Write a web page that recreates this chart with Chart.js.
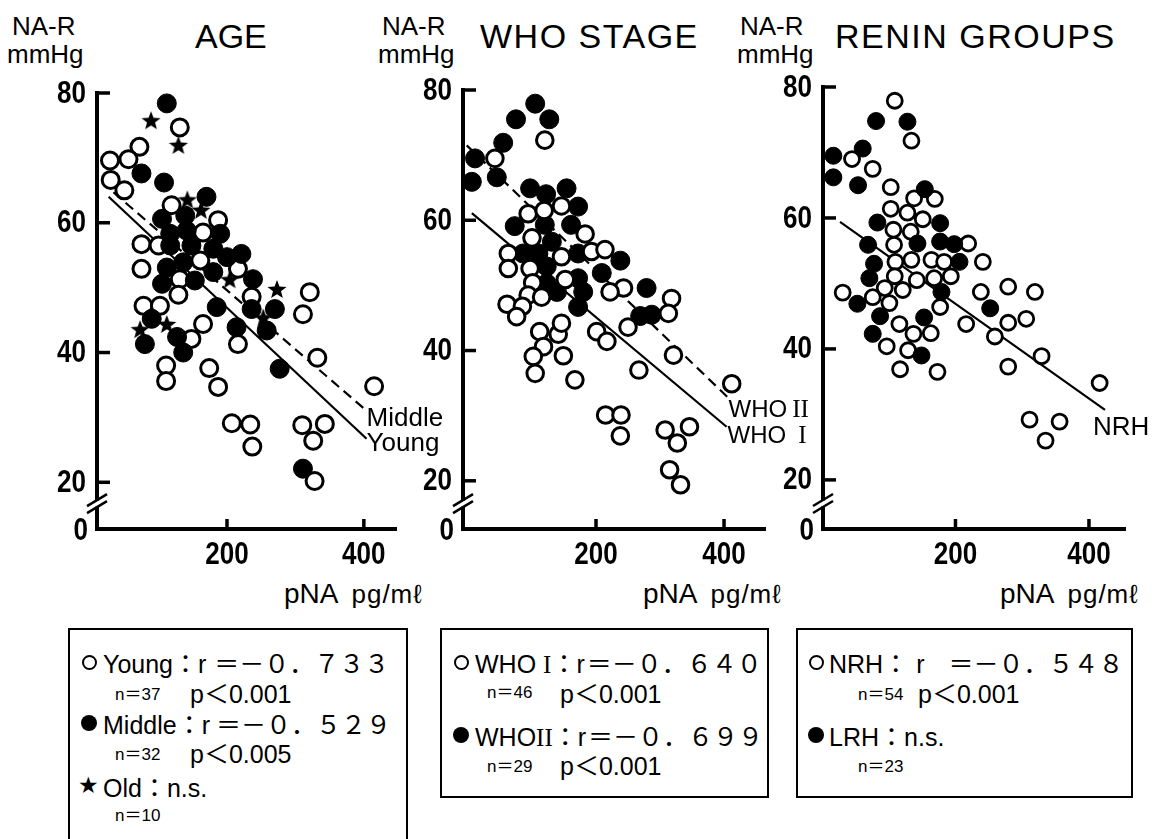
<!DOCTYPE html>
<html><head><meta charset="utf-8">
<script src="https://cdn.jsdelivr.net/npm/chart.js@4.4.0/dist/chart.umd.min.js"></script>
<style>
body{margin:0;width:1160px;height:839px;background:#fff;position:relative;overflow:hidden;font-family:'Liberation Sans',Arial,sans-serif;color:#000}
canvas{position:absolute;top:0}
.t{position:absolute;white-space:nowrap;line-height:1}
.box{position:absolute;border:2px solid #000;box-sizing:border-box}
.rn{font-family:'Liberation Serif','DejaVu Serif',serif}
.fw{font-family:'Noto Sans CJK JP',sans-serif}
.oc{position:absolute;width:15px;height:15px;border:2.2px solid #000;border-radius:50%;box-sizing:border-box;background:#fff}
.fc{position:absolute;width:16px;height:16px;border-radius:50%;background:#000}
.lg{font-size:25px}
.sm{font-size:17px}
</style></head><body>
<div class="t" style="left:12px;top:13px;font-size:26px">NA-R</div>
<div class="t" style="left:7px;top:41px;font-size:26px">mmHg</div>
<div class="t" style="left:195px;top:19px;font-size:34px">AGE</div>
<div class="t" style="left:382px;top:13px;font-size:26px">NA-R</div>
<div class="t" style="left:378px;top:41px;font-size:26px">mmHg</div>
<div class="t" style="left:480px;top:19px;font-size:34px;letter-spacing:1.5px">WHO STAGE</div>
<div class="t" style="left:740px;top:13px;font-size:26px">NA-R</div>
<div class="t" style="left:737px;top:41px;font-size:26px">mmHg</div>
<div class="t" style="left:835px;top:19px;font-size:34px;letter-spacing:1.5px">RENIN GROUPS</div>

<div class="t" style="left:284px;top:580px;font-size:28px">pNA<span style="font-size:26px;margin-left:13px;letter-spacing:1px">pg/mℓ</span></div>
<div class="t" style="left:643px;top:580px;font-size:28px">pNA<span style="font-size:26px;margin-left:13px;letter-spacing:1px">pg/mℓ</span></div>
<div class="t" style="left:1000px;top:580px;font-size:28px">pNA<span style="font-size:26px;margin-left:13px;letter-spacing:1px">pg/mℓ</span></div>

<!-- legend box 1 -->
<div class="box" style="left:68px;top:628px;width:340px;height:240px"></div>
<div class="oc" style="left:82px;top:655px"></div>
<div class="t lg" style="left:103px;top:650px">Young<span class="fw">：</span>r<span class="fw" style="margin-left:8px">＝－０．７３３</span></div>
<div class="t sm" style="left:115px;top:684px">n<span class="fw">＝</span>37</div>
<div class="t lg" style="left:190px;top:680px">p<span class="fw">＜</span>0.001</div>
<div class="fc" style="left:81px;top:715px"></div>
<div class="t lg" style="left:103px;top:711px">Middle<span class="fw">：</span>r<span class="fw" style="margin-left:6px">＝－０．５２９</span></div>
<div class="t sm" style="left:115px;top:744px">n<span class="fw">＝</span>32</div>
<div class="t lg" style="left:190px;top:740px">p<span class="fw">＜</span>0.005</div>
<div class="t" style="left:78px;top:774px;font-size:23px">★</div>
<div class="t lg" style="left:103px;top:774px">Old<span class="fw">：</span>n.s.</div>
<div class="t sm" style="left:115px;top:805px">n<span class="fw">＝</span>10</div>

<!-- legend box 2 -->
<div class="box" style="left:440px;top:628px;width:329px;height:170px"></div>
<div class="oc" style="left:454px;top:655px"></div>
<div class="t lg" style="left:475px;top:650px">WHO <span class="rn">I</span><span class="fw">：</span>r<span class="fw" style="margin-left:2px">＝－０．６４０</span></div>
<div class="t sm" style="left:487px;top:682px">n<span class="fw">＝</span>46</div>
<div class="t lg" style="left:560px;top:680px">p<span class="fw">＜</span>0.001</div>
<div class="fc" style="left:453px;top:727px"></div>
<div class="t lg" style="left:475px;top:723px">WHO<span class="rn">II</span><span class="fw">：</span>r<span class="fw" style="margin-left:2px">＝－０．６９９</span></div>
<div class="t sm" style="left:487px;top:756px">n<span class="fw">＝</span>29</div>
<div class="t lg" style="left:560px;top:752px">p<span class="fw">＜</span>0.001</div>

<!-- legend box 3 -->
<div class="box" style="left:796px;top:628px;width:337px;height:170px"></div>
<div class="oc" style="left:809px;top:655px"></div>
<div class="t lg" style="left:829px;top:650px">NRH<span class="fw">：</span><span style="margin-left:8px">r</span><span class="fw" style="margin-left:24px">＝－０．５４８</span></div>
<div class="t sm" style="left:858px;top:684px">n<span class="fw">＝</span>54</div>
<div class="t lg" style="left:918px;top:680px">p<span class="fw">＜</span>0.001</div>
<div class="fc" style="left:808px;top:727px"></div>
<div class="t lg" style="left:829px;top:723px">LRH<span class="fw">：</span>n.s.</div>
<div class="t sm" style="left:858px;top:756px">n<span class="fw">＝</span>23</div>

<canvas id="c1" width="455" height="620" style="left:0;width:455px;height:620px"></canvas>
<canvas id="c2" width="460" height="620" style="left:370px;width:460px;height:620px"></canvas>
<canvas id="c3" width="430" height="620" style="left:730px;width:430px;height:620px"></canvas>

<script>
// ---------- DATA ----------
const xTickValues = [200, 400];
const yTickValues = [20, 40, 60, 80];

// Panel 1: AGE
const ageYoungX = [131,72,29,56,30,50,119,187,165,75,100,75,161,216,131,129,236,321,311,78,102,148,165,216,111,111,174,187,207,234,237,332,415,310,343,326,328];
const ageYoungY = [74.7,71.7,69.6,69.8,66.6,65.0,62.7,60.4,58.5,56.7,56.5,52.9,54.2,52.9,51.3,48.9,48.6,49.3,45.9,47.2,47.2,42.1,44.4,41.3,38.0,35.6,37.6,34.7,29.1,28.9,25.5,39.2,34.8,28.8,29.0,26.4,20.2];
const ageMiddleX = [112,75,108,170,139,105,117,141,190,117,148,180,200,221,112,136,180,153,105,238,185,236,270,90,80,127,136,214,258,277,311];
const ageMiddleY = [78.4,67.6,66.2,64.0,61.1,60.6,58.3,58.8,58.3,56.5,56.5,56.0,54.7,55.2,53.1,53.9,52.4,51.1,50.6,51.3,47.0,46.7,46.7,45.2,41.3,42.4,40.0,43.9,43.4,37.5,22.1];
const ageOldX = [89,129,142,162,204,273,253,73,112];
const ageOldY = [75.8,72.0,63.6,62.0,51.3,49.8,45.4,43.6,44.4];
const ageYoungLineX = [27, 404];
const ageYoungLineY = [64.0, 26.7];
const ageMiddleLineX = [34, 401];
const ageMiddleLineY = [64.7, 31.3];

// Panel 2: WHO STAGE
const who1X = [120,42,146,94,119,183,100,63,146,193,214,63,97,152,101,243,222,318,94,115,61,85,76,313,250,112,141,146,118,102,149,201,217,321,105,167,267,412,215,239,238,308,346,327,315,332];
const who1Y = [72.3,69.5,62.2,61.0,61.5,57.9,57.3,54.9,54.4,55.2,55.5,52.6,52.6,50.9,50.4,49.6,49.0,48.0,48.5,48.2,47.1,46.8,45.2,45.7,43.6,42.9,42.5,44.2,40.6,39.1,39.2,42.9,41.4,39.3,36.5,35.5,37.0,34.9,30.1,30.1,26.9,27.8,28.3,25.8,21.7,19.4];
const who2X = [105,75,127,55,11,45,6,97,122,154,172,73,120,161,131,86,110,172,238,123,209,172,279,123,180,139,172,269,287];
const who2Y = [77.9,75.5,75.5,71.9,69.5,66.6,65.9,64.9,64.0,64.9,62.1,59.1,59.3,59.3,56.7,54.9,54.9,54.9,53.8,52.9,51.9,51.1,49.6,50.3,49.0,49.0,46.7,45.3,45.5];
const who1LineX = [6, 404];
const who1LineY = [61.1, 28.3];
const who2LineX = [-2, 407];
const who2LineY = [71.5, 32.7];

// Panel 3: RENIN GROUPS
const nrhX = [109,134,45,76,103,138,169,103,128,151,107,133,108,219,110,134,164,183,241,109,142,168,193,31,76,94,121,101,238,177,116,137,163,216,97,129,259,117,173,279,319,279,306,329,279,416,311,356,335];
const nrhY = [77.9,71.8,69.0,67.5,64.7,63.0,62.9,61.4,60.8,59.8,58.2,57.9,55.9,56.1,53.3,53.6,53.6,53.3,53.3,51.1,50.5,50.8,51.1,48.6,47.9,49.3,49.0,47.0,48.7,46.4,43.8,42.3,42.4,43.8,40.4,39.8,41.9,36.9,36.5,49.5,48.7,44.0,44.6,38.9,37.3,34.8,29.2,28.9,26.0];
const lrhX = [81,128,17,61,17,54,154,83,177,69,143,177,198,78,206,71,53,179,252,87,153,76,149];
const lrhY = [74.8,74.7,69.5,70.6,66.2,65.0,64.4,59.3,59.2,55.9,56.1,56.4,56.0,53.0,53.3,50.8,46.9,48.7,46.2,45.0,44.8,42.3,39.0];
const nrhLineX = [27, 424];
const nrhLineY = [59.4, 30.7];

// ---------- helpers ----------
const pts = (xs, ys) => xs.map((x, i) => ({x, y: ys[i]}));
function starImage(size){
  const c = document.createElement('canvas'); c.width = c.height = size;
  const g = c.getContext('2d'); g.fillStyle = '#000'; g.beginPath();
  const cx = size/2, cy = size/2 + size*0.05, R = size/2, r = R*0.42;
  for (let i = 0; i < 10; i++) { const a = -Math.PI/2 + i*Math.PI/5; const rr = i%2 ? r : R; g.lineTo(cx + rr*Math.cos(a), cy + rr*Math.sin(a)); }
  g.closePath(); g.fill(); return c;
}
const STAR = starImage(20);
const TICK_FONT = "bold 31px 'Liberation Sans',Arial,sans-serif";

function drawNarrow(ctx, text, x, y, align) {
  ctx.save();
  ctx.font = TICK_FONT; ctx.textBaseline = 'middle';
  const sx = 0.84;
  const w = ctx.measureText(text).width * sx;
  let left = align === 'right' ? x - w : (align === 'center' ? x - w / 2 : x);
  ctx.translate(left, y); ctx.scale(sx, 1);
  ctx.textAlign = 'left'; ctx.fillText(text, 0, 0);
  ctx.restore();
}

const deco = {
  id: 'deco',
  afterDatasetsDraw(chart, args, o) {
    const {ctx, chartArea: a, scales: {x, y}} = chart;
    ctx.save();
    ctx.fillStyle = '#000'; ctx.strokeStyle = '#000'; ctx.lineWidth = 3.5; ctx.lineCap = 'butt';
    yTickValues.forEach(v => {
      const py = y.getPixelForValue(v);
      ctx.beginPath(); ctx.moveTo(a.left, py); ctx.lineTo(a.left + 13, py); ctx.stroke();
      drawNarrow(ctx, String(v), a.left - 11, py + 1, 'right');
    });
    drawNarrow(ctx, '0', a.left - 9, y.getPixelForValue(y.min) + 2, 'right');
    xTickValues.forEach(v => {
      const px = x.getPixelForValue(v);
      ctx.beginPath(); ctx.moveTo(px, a.bottom); ctx.lineTo(px, a.bottom - 10); ctx.stroke();
      drawNarrow(ctx, String(v), px, a.bottom + 26, 'center');
    });
    // axis break
    const pb = y.getPixelForValue(o.breakAt);
    ctx.fillStyle = '#fff'; ctx.fillRect(a.left - 3, pb - 3, 6, 6);
    ctx.fillStyle = '#000'; ctx.lineWidth = 2.5;
    [-3.5, 3.5].forEach(d => { ctx.beginPath(); ctx.moveTo(a.left - 10, pb + d + 6); ctx.lineTo(a.left + 10, pb + d - 6); ctx.stroke(); });
    // regression line labels
    ctx.textBaseline = 'middle'; ctx.textAlign = 'left';
    (o.labels || []).forEach(L => {
      const el = chart.getDatasetMeta(L.ds).data[1];
      let px = el.x + L.dx; const py = el.y + L.dy;
      L.parts.forEach(p => { px += (p.gap || 0); ctx.font = p.f; ctx.fillText(p.t, px, py); px += ctx.measureText(p.t).width; });
    });
    ctx.restore();
  }
};

function panel(id, cfg) {
  const canvas = document.getElementById(id);
  const H = canvas.height, W = canvas.width;
  const off = cfg.offset;
  return new Chart(canvas, {
    type: 'scatter',
    data: {datasets: cfg.datasets},
    options: {
      responsive: false, animation: false, devicePixelRatio: 1,
      layout: {padding: {left: 0, top: cfg.top, right: W - (cfg.right - off), bottom: 0}},
      plugins: {legend: {display: false}, tooltip: {enabled: false}, deco: {breakAt: cfg.breakAt, labels: cfg.labels}},
      scales: {
        x: {type: 'linear', min: cfg.xmin, max: cfg.xmax,
            afterBuildTicks: s => { s.ticks = xTickValues.map(v => ({value: v})); },
            afterFit: s => { s.height = H - cfg.bottom; },
            grid: {display: false, drawTicks: false},
            border: {display: true, width: 4, color: '#000'},
            ticks: {display: false}},
        y: {type: 'linear', min: cfg.ymin, max: 80,
            afterBuildTicks: s => { s.ticks = yTickValues.map(v => ({value: v})); },
            afterFit: s => { s.width = cfg.axisX - off; },
            grid: {display: false, drawTicks: false},
            border: {display: true, width: 4, color: '#000'},
            ticks: {display: false}}
      }
    },
    plugins: [deco]
  });
}

const openDs = (data, r, bw, order) => ({data, pointRadius: r, pointBorderWidth: bw, pointBackgroundColor: '#fff', pointBorderColor: '#000', order});
const fillDs = (data, r, order) => ({data, pointRadius: r, pointBorderWidth: 1, pointBackgroundColor: '#000', pointBorderColor: '#000', order});
const lineDs = (data, dash, order) => ({data, showLine: true, borderColor: '#000', borderWidth: 2.2, borderDash: dash, pointRadius: 0, order});
const lblFont = "26px 'Liberation Sans',Arial,sans-serif";
const whoFont = "24px 'Liberation Sans',Arial,sans-serif";
const serifFont = "25px 'Liberation Serif','DejaVu Serif',serif";

panel('c1', {
  offset: 0, top: 93, bottom: 529, right: 396, axisX: 97, xmin: 10, xmax: 447, ymin: 12.8, breakAt: 16.7,
  datasets: [
    lineDs(pts(ageYoungLineX, ageYoungLineY), [], 5),
    lineDs(pts(ageMiddleLineX, ageMiddleLineY), [10, 6], 4),
    openDs(pts(ageYoungX, ageYoungY), 8.5, 3, 3),
    fillDs(pts(ageMiddleX, ageMiddleY), 9.5, 2),
    {data: pts(ageOldX, ageOldY), pointStyle: STAR, pointRadius: 9, order: 1}
  ],
  labels: [
    {ds: 1, dx: 2, dy: 10, parts: [{t: 'Middle', f: lblFont}]},
    {ds: 0, dx: 0, dy: 5, parts: [{t: 'Young', f: lblFont}]}
  ]
});

panel('c2', {
  offset: 370, top: 90, bottom: 529, right: 765, axisX: 463, xmin: -7.8, xmax: 464, ymin: 12.6, breakAt: 16.5,
  datasets: [
    lineDs(pts(who1LineX, who1LineY), [], 5),
    lineDs(pts(who2LineX, who2LineY), [10, 6], 4),
    fillDs(pts(who2X, who2Y), 9.5, 3),
    openDs(pts(who1X, who1Y), 8.3, 3, 2)
  ],
  labels: [
    {ds: 1, dx: 0, dy: 12, parts: [{t: 'WHO', f: whoFont}, {t: 'II', f: serifFont, gap: 5}]},
    {ds: 0, dx: 1, dy: 10, parts: [{t: 'WHO', f: whoFont}, {t: 'I', f: serifFont, gap: 12}]}
  ]
});

panel('c3', {
  offset: 730, top: 87, bottom: 529, right: 1125, axisX: 823, xmin: 1.5, xmax: 454, ymin: 12.5, breakAt: 16.4,
  datasets: [
    lineDs(pts(nrhLineX, nrhLineY), [], 4),
    openDs(pts(nrhX, nrhY), 7.5, 2.8, 3),
    fillDs(pts(lrhX, lrhY), 8.5, 2)
  ],
  labels: [
    {ds: 0, dx: -12, dy: 18, parts: [{t: 'NRH', f: lblFont}]}
  ]
});
</script>
</body></html>
